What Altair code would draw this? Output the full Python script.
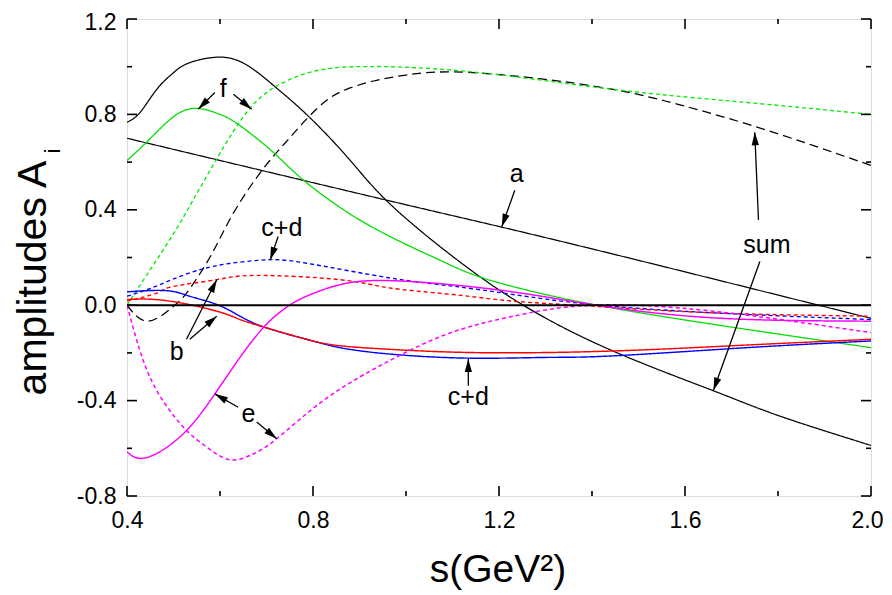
import math
import altair as alt
import pandas as pd

# ---------------- data ----------------
a_x = [0.4, 0.944, 1.2, 1.496, 2.0]
a_y = [0.70, 0.447, 0.33, 0.19, -0.055]

sum_x = [0.4, 0.428, 0.464, 0.5, 0.535, 0.604, 0.665, 0.722, 0.786, 0.872, 0.961, 1.1, 1.252, 1.445, 1.66, 1.804, 2.0]
sum_y = [0.767, 0.808, 0.905, 0.975, 1.017, 1.04, 0.998, 0.91, 0.80, 0.625, 0.433, 0.205, 0.0, -0.192, -0.358, -0.465, -0.588]

sumd_x = [0.4, 0.446, 0.5, 0.528, 0.578, 0.63, 0.693, 0.74, 0.786, 0.83, 0.872, 0.93, 1.0, 1.1, 1.267, 1.445, 1.589, 1.733, 1.875, 2.0]
sumd_y = [0.0, -0.067, -0.004, 0.051, 0.2, 0.39, 0.572, 0.68, 0.78, 0.86, 0.905, 0.94, 0.965, 0.978, 0.954, 0.905, 0.84, 0.76, 0.67, 0.586]

f_x = [0.4, 0.435, 0.478, 0.514, 0.553, 0.6, 0.643, 0.714, 0.779, 0.872, 0.944, 1.0, 1.066, 1.138, 1.23, 1.4, 1.66, 2.0]
f_y = [0.607, 0.67, 0.753, 0.808, 0.825, 0.80, 0.753, 0.642, 0.525, 0.392, 0.31, 0.255, 0.195, 0.133, 0.078, 0.004, -0.08, -0.178]

fd_x = [0.4, 0.43, 0.464, 0.5, 0.528, 0.593, 0.657, 0.722, 0.822, 0.92, 0.966, 1.159, 1.445, 1.733, 2.0]
fd_y = [0.0, 0.09, 0.19, 0.30, 0.392, 0.614, 0.808, 0.919, 0.989, 1.0, 1.0, 0.975, 0.905, 0.85, 0.80]

cdd_x = [0.4, 0.45, 0.5, 0.557, 0.62, 0.70, 0.786, 0.966, 1.1, 1.23, 1.4, 1.66, 2.0]
cdd_y = [0.0375, 0.07, 0.11, 0.149, 0.175, 0.19, 0.176, 0.114, 0.08, 0.045, 0.003, -0.032, -0.06]

bd_x = [0.4, 0.464, 0.5, 0.593, 0.679, 0.858, 0.966, 1.1, 1.23, 1.4, 1.66, 2.0]
bd_y = [0.017, 0.051, 0.079, 0.107, 0.125, 0.107, 0.072, 0.045, 0.017, -0.004, -0.032, -0.046]

cd_x = [0.4, 0.485, 0.535, 0.593, 0.643, 0.70, 0.786, 0.858, 0.966, 1.134, 1.3, 1.445, 1.733, 2.0]
cd_y = [0.056, 0.061, 0.0375, 0.003, -0.046, -0.095, -0.143, -0.178, -0.205, -0.222, -0.219, -0.2125, -0.178, -0.15]

b_x = [0.4, 0.485, 0.593, 0.643, 0.70, 0.786, 0.858, 0.966, 1.159, 1.445, 1.733, 2.0]
b_y = [0.024, 0.019, -0.025, -0.06, -0.095, -0.143, -0.17, -0.185, -0.199, -0.192, -0.167, -0.143]

e_x = [0.4, 0.442, 0.521, 0.589, 0.643, 0.70, 0.758, 0.808, 0.858, 0.966, 1.195, 1.4, 1.66, 2.0]
e_y = [-0.615, -0.639, -0.539, -0.372, -0.219, -0.080, 0.010, 0.055, 0.086, 0.103, 0.065, 0.003, -0.053, -0.067]

ed_x = [0.4, 0.428, 0.464, 0.521, 0.571, 0.621, 0.67, 0.722, 0.822, 0.944, 1.087, 1.231, 1.4, 1.66, 2.0]
ed_y = [0.0, -0.192, -0.358, -0.511, -0.594, -0.648, -0.625, -0.56, -0.40, -0.254, -0.122, -0.046, 0.0, -0.025, -0.115]

series_names = ["a", "sum", "sum_d", "f", "f_d", "cd_d", "b_d", "cd", "b", "e", "e_d"]
series_xy = [(a_x, a_y), (sum_x, sum_y), (sumd_x, sumd_y), (f_x, f_y), (fd_x, fd_y),
             (cdd_x, cdd_y), (bd_x, bd_y), (cd_x, cd_y), (b_x, b_y), (e_x, e_y), (ed_x, ed_y)]
series_colors = ["#000000", "#000000", "#000000", "#00dd00", "#00ee00", "#0000ff", "#ff0000",
                 "#0000ff", "#ff0000", "#ff00ff", "#ff00ff"]
series_dash = [[1, 0], [1, 0], [9, 5], [1, 0], [4, 3], [4, 3], [4, 3], [1, 0], [1, 0], [1, 0], [4, 3]]
series_width = [1.2, 1.5, 1.4, 1.3, 1.3, 1.3, 1.3, 1.3, 1.3, 1.3, 1.3]

# annotation labels (text, x, y)
lab_text = ["f", "c+d", "a", "sum", "b", "e", "c+d"]
lab_x = [0.607, 0.733, 1.238, 1.776, 0.507, 0.661, 1.134]
lab_y = [0.905, 0.322, 0.551, 0.253, -0.198, -0.455, -0.386]

# arrows (from -> tip)
arr_x0 = [0.589, 0.629, 0.725, 1.234, 1.758, 1.761, 0.528, 0.535, 0.639, 0.679, 1.134]
arr_y0 = [0.892, 0.885, 0.288, 0.482, 0.357, 0.183, -0.143, -0.143, -0.428, -0.49, -0.338]
arr_x1 = [0.553, 0.668, 0.708, 1.206, 1.750, 1.661, 0.593, 0.593, 0.589, 0.722, 1.134]
arr_y1 = [0.822, 0.822, 0.19, 0.329, 0.725, -0.358, 0.107, -0.046, -0.372, -0.56, -0.226]

x_major = [0.4, 0.8, 1.2, 1.6, 2.0]
x_minor = [0.6, 1.0, 1.4, 1.8]
y_major = [-0.8, -0.4, 0.0, 0.4, 0.8, 1.2]
y_minor = [-0.6, -0.2, 0.2, 0.6, 1.0]

# ---------------- chart ----------------
W, H = 744, 477
XMIN, XMAX, YMIN, YMAX = 0.4, 2.0, -0.8, 1.2
FONT = "Liberation Sans"

rows = []
for name, (xs, ys) in zip(series_names, series_xy):
    for i, (xv, yv) in enumerate(zip(xs, ys)):
        rows.append({"s": name, "x": xv, "y": yv, "o": i})
df = pd.DataFrame(rows)

xs_ = alt.Scale(domain=[XMIN, XMAX], nice=False, zero=False)
ys_ = alt.Scale(domain=[YMIN, YMAX], nice=False, zero=False)

lines = alt.Chart(df).mark_line(clip=True, interpolate="natural").encode(
    x=alt.X("x:Q", scale=xs_, axis=alt.Axis(values=x_major, labelExpr="format(datum.value, '.1f')",
                                            domain=False, ticks=False, grid=False, title=None,
                                            labelFontSize=23, labelFont=FONT, labelPadding=13,
                                            labelColor="black", labelFlush=False,
                                            labelOffset={"condition": {"test": "datum.value >= 1.99", "value": -4}, "value": 0})),
    y=alt.Y("y:Q", scale=ys_, axis=alt.Axis(values=y_major,
                                            labelExpr="datum.value < 0 ? '-' + format(-datum.value, '.1f') : format(datum.value, '.1f')",
                                            domain=False, ticks=False, grid=False, title=None,
                                            labelFontSize=23, labelFont=FONT, labelPadding=11,
                                            labelColor="black", labelFlush=False,
                                            labelOffset={"condition": {"test": "datum.value >= 1.19", "value": 3}, "value": 0})),
    color=alt.Color("s:N", scale=alt.Scale(domain=series_names, range=series_colors), legend=None),
    strokeDash=alt.StrokeDash("s:N", scale=alt.Scale(domain=series_names, range=series_dash), legend=None),
    strokeWidth=alt.StrokeWidth("s:N", scale=alt.Scale(domain=series_names, range=series_width), legend=None),
    detail="s:N",
    order="o:Q",
)

zero = alt.Chart(pd.DataFrame({"y": [0.0]})).mark_rule(color="black", strokeWidth=2).encode(
    y=alt.Y("y:Q", scale=ys_), x=alt.value(0), x2=alt.value(W))

# ticks (inward)
xmaj = pd.DataFrame({"v": x_major})
xmin_ = pd.DataFrame({"v": x_minor})
ymaj = pd.DataFrame({"v": y_major})
ymin_ = pd.DataFrame({"v": y_minor})
tick_layers = []
for d, L in [(xmaj, 10), (xmin_, 5)]:
    tick_layers.append(alt.Chart(d).mark_rule(color="black", strokeWidth=1.6).encode(
        x=alt.X("v:Q", scale=xs_), y=alt.value(H), y2=alt.value(H - L)))
    tick_layers.append(alt.Chart(d).mark_rule(color="black", strokeWidth=1.6).encode(
        x=alt.X("v:Q", scale=xs_), y=alt.value(0), y2=alt.value(L)))
for d, L in [(ymaj, 10), (ymin_, 5)]:
    tick_layers.append(alt.Chart(d).mark_rule(color="black", strokeWidth=1.6).encode(
        y=alt.Y("v:Q", scale=ys_), x=alt.value(0), x2=alt.value(L)))
    tick_layers.append(alt.Chart(d).mark_rule(color="black", strokeWidth=1.6).encode(
        y=alt.Y("v:Q", scale=ys_), x=alt.value(W), x2=alt.value(W - L)))

# arrows
sx = W / (XMAX - XMIN)
sy = H / (YMAX - YMIN)
angs = []
for x0, y0, x1, y1 in zip(arr_x0, arr_y0, arr_x1, arr_y1):
    dx = (x1 - x0) * sx
    dy = -(y1 - y0) * sy
    angs.append(math.degrees(math.atan2(dx, -dy)) % 360)
adf = pd.DataFrame({"x0": arr_x0, "y0": arr_y0, "x1": arr_x1, "y1": arr_y1, "ang": angs})

arrow_lines = alt.Chart(adf).mark_rule(color="black", strokeWidth=1.3).encode(
    x=alt.X("x0:Q", scale=xs_), y=alt.Y("y0:Q", scale=ys_), x2="x1:Q", y2="y1:Q")
arrow_heads = alt.Chart(adf).mark_point(
    shape="M0,0L-0.28,1L0.28,1Z", filled=True, color="black", opacity=1, size=676, strokeWidth=0
).encode(x=alt.X("x1:Q", scale=xs_), y=alt.Y("y1:Q", scale=ys_),
         angle=alt.Angle("ang:Q", scale=None))

ldf = pd.DataFrame({"t": lab_text, "x": lab_x, "y": lab_y})
labels = alt.Chart(ldf).mark_text(font=FONT, fontSize=25, color="black", align="center",
                                  baseline="middle").encode(
    x=alt.X("x:Q", scale=xs_), y=alt.Y("y:Q", scale=ys_), text="t:N")

# titles
xtitle = alt.Chart(pd.DataFrame({"t": ["s(GeV²)"]})).mark_text(
    font=FONT, fontSize=39, color="black", align="center", baseline="middle").encode(
    x=alt.value(W / 2 - 1), y=alt.value(H + 74), text="t:N")
ytitle = alt.Chart(pd.DataFrame({"t": ["amplitudes A"]})).mark_text(
    font=FONT, fontSize=41, color="black", align="center", baseline="middle", angle=270).encode(
    x=alt.value(-93), y=alt.value(259), text="t:N")
ysub = alt.Chart(pd.DataFrame({"t": ["i"]})).mark_text(
    font=FONT, fontSize=22, color="black", align="center", baseline="middle", angle=270).encode(
    x=alt.value(-74), y=alt.value(132), text="t:N")

chart = alt.layer(lines, zero, *tick_layers, arrow_lines, arrow_heads, labels, xtitle, ytitle, ysub).properties(
    width=W, height=H,
    autosize=alt.AutoSizeParams(type="none"),
    padding={"left": 119, "top": 11, "right": 13, "bottom": 96},
).configure_view(stroke="black", strokeWidth=2).configure(background="white")

chart.save("out.html", embed_options={"renderer": "svg", "actions": False})
